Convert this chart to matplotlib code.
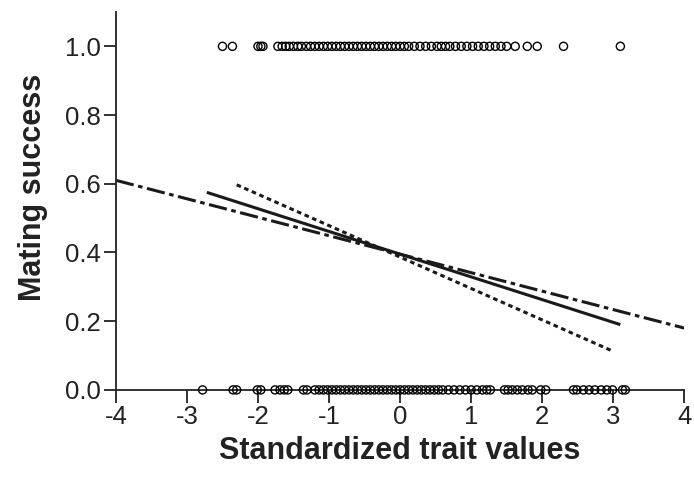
import matplotlib
matplotlib.use("Agg")
import matplotlib.pyplot as plt

plt.rcParams['font.family'] = ['Liberation Sans', 'DejaVu Sans']

# trait values of individuals that mated (y = 1) and did not (y = 0)
mated_x = [-2.5, -2.36, -2.0, -1.96, -1.93, -1.72, -1.66, -1.61, -1.56, -1.5,
           -1.44, -1.39, -1.32, -1.26, -1.2, -1.14, -1.08, -1.02, -0.96, -0.9,
           -0.84, -0.78, -0.72, -0.66, -0.6, -0.54, -0.48, -0.42, -0.36, -0.3,
           -0.24, -0.18, -0.12, -0.06, 0.0, 0.06, 0.12, 0.2, 0.28, 0.36,
           0.44, 0.52, 0.58, 0.64, 0.7, 0.78, 0.86, 0.94, 1.02, 1.1,
           1.18, 1.26, 1.34, 1.42, 1.5, 1.62, 1.79, 1.93, 2.3, 3.1]
unmated_x = [-2.78, -2.35, -2.3, -2.01, -1.96, -1.76, -1.69, -1.63, -1.58, -1.36,
             -1.31, -1.2, -1.14, -1.08, -1.02, -0.96, -0.9, -0.84, -0.78, -0.72,
             -0.66, -0.6, -0.54, -0.48, -0.42, -0.36, -0.3, -0.24, -0.18, -0.12,
             -0.06, 0.0, 0.06, 0.12, 0.18, 0.24, 0.3, 0.36, 0.42, 0.48,
             0.54, 0.6, 0.68, 0.76, 0.84, 0.92, 1.0, 1.08, 1.16, 1.22,
             1.27, 1.47, 1.52, 1.58, 1.65, 1.72, 1.8, 1.86, 1.98, 2.05,
             2.44, 2.49, 2.58, 2.66, 2.74, 2.83, 2.91, 2.99, 3.13, 3.17]

# fitted lines (end points)
solid_x, solid_y = [-2.72, 3.1], [0.575, 0.19]
dotted_x, dotted_y = [-2.3, 2.97], [0.597, 0.115]
dashdot_x, dashdot_y = [-4.0, 4.0], [0.61, 0.18]

xticks = [-4, -3, -2, -1, 0, 1, 2, 3, 4]
yticks = [0.0, 0.2, 0.4, 0.6, 0.8, 1.0]

fig = plt.figure(figsize=(6.94, 4.79), dpi=100)
ax = fig.add_axes([0.167, 0.186, 0.819, 0.789])

ax.scatter(mated_x, [1.0] * len(mated_x), s=34, facecolors='none',
           edgecolors='black', linewidths=1.0, clip_on=False, zorder=3)
ax.scatter(unmated_x, [0.0] * len(unmated_x), s=34, facecolors='none',
           edgecolors='black', linewidths=1.0, clip_on=False, zorder=3)

ax.plot(solid_x, solid_y, color='#1a1a1a', lw=2.2, solid_capstyle='butt')
ax.plot(dotted_x, dotted_y, color='#1a1a1a', lw=2.2, linestyle=(0, (1.5, 1.2)))
ax.plot(dashdot_x, dashdot_y, color='#1a1a1a', lw=2.2,
        linestyle=(0, (6, 1.5, 1.5, 1.5)))

ax.set_xlim(-4, 4)
ax.set_ylim(0, 1.1)
ax.set_xticks(xticks)
ax.set_xticklabels([f'{t}' for t in xticks])
ax.set_yticks(yticks)
ax.set_yticklabels([f'{t:.1f}' for t in yticks])

for s in ['top', 'right']:
    ax.spines[s].set_visible(False)
for s in ['left', 'bottom']:
    ax.spines[s].set_linewidth(1.3)
    ax.spines[s].set_color('#222222')

ax.tick_params(direction='out', length=9, width=1.3, labelsize=18.5,
               colors='#222222', pad=2)

ax.set_xlabel('Standardized trait values', fontsize=22, fontweight='bold',
              color='#222222', labelpad=5)
ax.set_ylabel('Mating success', fontsize=22, fontweight='bold',
              color='#222222')
ax.yaxis.set_label_coords(-0.12, 0.535)

fig.savefig('out.png', dpi=100)
